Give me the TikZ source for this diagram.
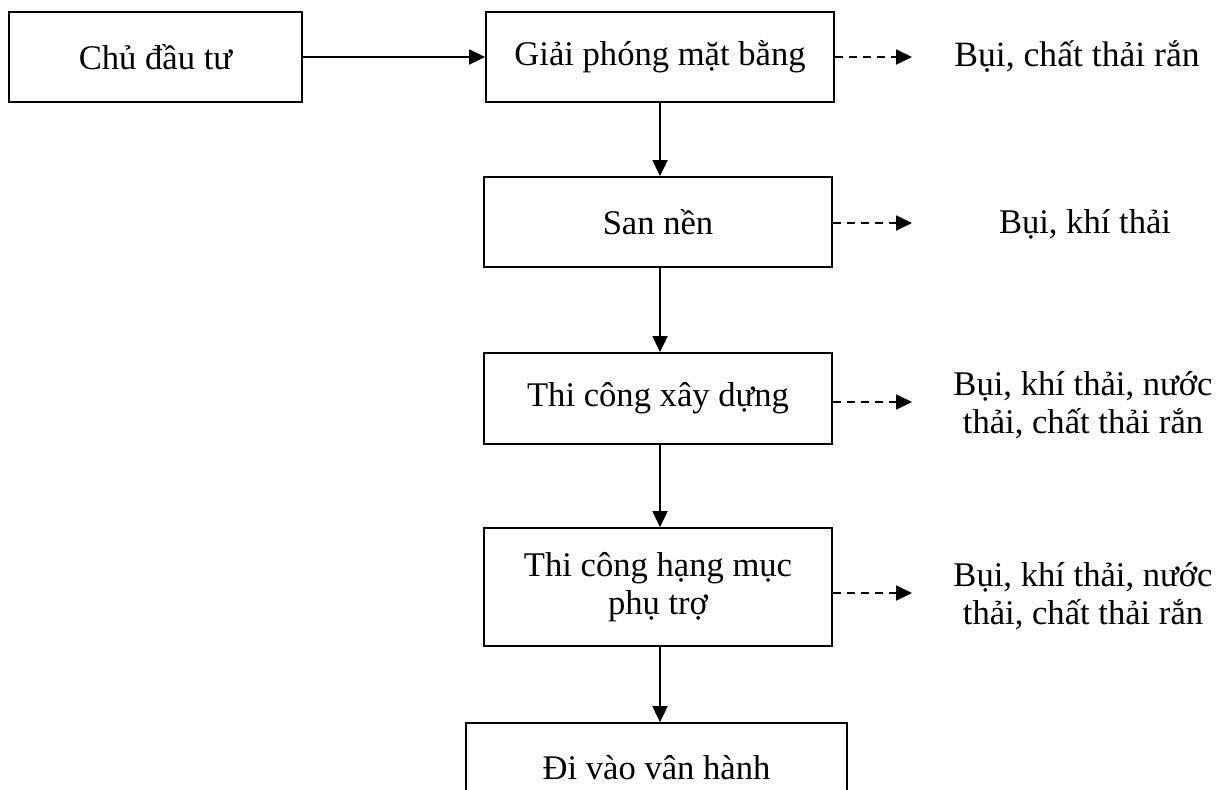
\documentclass[tikz,border=0pt]{standalone}
\usepackage{fontspec}
\setmainfont{Liberation Serif}
\usetikzlibrary{arrows.meta}
\begin{document}
\begin{tikzpicture}[x=0.5pt,y=-0.5pt,>={Triangle[length=8pt,width=7.5pt]},
  font=\fontsize{17.3}{19}\selectfont,
  box/.style={draw,line width=0.9pt,minimum width=174pt,minimum height=45pt,align=center,inner sep=0pt},
  note/.style={align=center,inner sep=0pt},
  flow/.style={->,line width=0.9pt},
  waste/.style={->,line width=0.9pt,dash pattern=on 4pt off 3pt}]
\clip (0,0) rectangle (1218,789);
\node[box,minimum width=146.5pt] (CDT) at (155.5,57) {Chủ đầu tư};
\node[box] (GPMB) at (660,57) {Giải phóng mặt bằng};
\node[box] (SN) at (658,222) {San nền};
\node[box,minimum height=45.5pt] (TCXD) at (658,398.5) {Thi công xây dựng};
\node[box,minimum height=59pt] (TCPT) at (658,587) {Thi công hạng mục\\phụ trợ};
\node[box,minimum width=190.5pt] (DVVH) at (656.5,768) {Đi vào vân hành};
\node[note,font=\fontsize{17.8}{19}\selectfont] (R1) at (1077,57) {Bụi, chất thải rắn};
\node[note] (R2) at (1085,224) {Bụi, khí thải};
\node[note] (R3) at (1083,405) {Bụi, khí thải, nước\\thải, chất thải rắn};
\node[note] (R4) at (1083,596) {Bụi, khí thải, nước\\thải, chất thải rắn};
\coordinate (E1) at (912,57);
\coordinate (E2) at (912,223);
\coordinate (E3) at (912,402);
\coordinate (E4) at (912,593);
\draw[flow] (CDT) -- (GPMB);
\draw[flow] (GPMB.south -| 660,0) -- (SN.north -| 660,0);
\draw[flow] (SN.south -| 660,0) -- (TCXD.north -| 660,0);
\draw[flow] (TCXD.south -| 660,0) -- (TCPT.north -| 660,0);
\draw[flow] (TCPT.south -| 660,0) -- (DVVH.north -| 660,0);
\draw[waste] (GPMB.east) -- (E1);
\draw[waste] (SN.east |- E2) -- (E2);
\draw[waste] (TCXD.east |- E3) -- (E3);
\draw[waste] (TCPT.east |- E4) -- (E4);
\end{tikzpicture}
\end{document}
